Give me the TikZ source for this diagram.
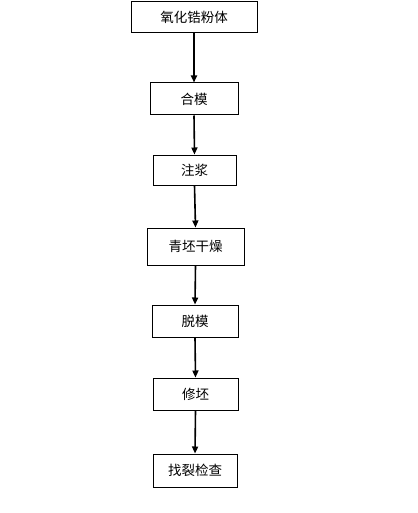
\documentclass[tikz,border=0pt]{standalone}
\usepackage{fontspec}
\newfontfamily\cjk{Noto Sans CJK SC}
\usetikzlibrary{arrows.meta}
\begin{document}
\begin{tikzpicture}[x=1pt,y=-1pt,
  stepbox/.style={draw=black,line width=1pt,fill=white,inner sep=0pt,font=\cjk\fontsize{13.5}{15}\selectfont},
  flow/.style={draw=black,line width=1.6pt,-{Triangle[length=7pt,width=6pt]}}]
\useasboundingbox (0,0) rectangle (417,513);
\node[stepbox,minimum width=126pt,minimum height=31pt] (n1) at (194,17.5) {氧化锆粉体};
\node[stepbox,minimum width=88pt,minimum height=32pt] (n2) at (194,99) {合模};
\node[stepbox,minimum width=83pt,minimum height=30pt] (n3) at (194.5,170) {注浆};
\node[stepbox,minimum width=97pt,minimum height=37pt] (n4) at (195.5,246.5) {青坯干燥};
\node[stepbox,minimum width=86pt,minimum height=32pt] (n5) at (195,321) {脱模};
\node[stepbox,minimum width=85pt,minimum height=32pt] (n6) at (195.5,394) {修坯};
\node[stepbox,minimum width=84pt,minimum height=33pt] (n7) at (195,470.5) {找裂检查};
\draw[flow] (n1.south) -- (n2.north);
\draw[flow] (n2.south) -- (n3.north);
\draw[flow] (n3.south) -- (n4.north);
\draw[flow] (n4.south) -- (n5.north);
\draw[flow] (n5.south) -- (n6.north);
\draw[flow] (n6.south) -- (n7.north);
\end{tikzpicture}
\end{document}
